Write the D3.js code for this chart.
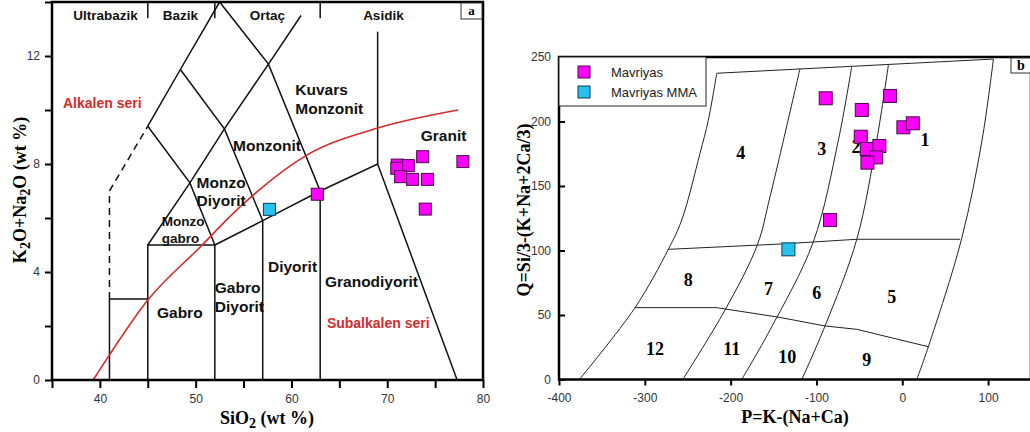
<!DOCTYPE html>
<html>
<head>
<meta charset="utf-8">
<script src="https://cdn.jsdelivr.net/npm/d3@7"></script>
<style>
  body { margin: 0; background: #fff; }
  text { font-family: "Liberation Sans", Arial, sans-serif; }
  .serif { font-family: "Liberation Serif", "Times New Roman", serif; font-weight: bold; }
  .tick text { font-size: 12px; fill: #333; font-family: "Liberation Sans", Arial, sans-serif; }
</style>
</head>
<body>
<script>
// ---- data, panel a (TAS, SiO2 vs K2O+Na2O) ----
const tasGranite = [
  [73.7, 8.27], [77.9, 8.09], [71.05, 7.96], [72.2, 7.94], [71.0, 7.84],
  [71.4, 7.53], [72.65, 7.43], [74.2, 7.43], [73.97, 6.33], [62.7, 6.88]
];
const tasMMA = [[57.7, 6.32]];

// field boundaries
const tasFields = [
  [[41, 0], [41, 3], [45, 3]],
  [[45, 0], [45, 5], [52, 5], [52, 0]],
  [[45, 5], [49.4, 7.3], [53, 9.3], [57.6, 11.7], [61, 13.5]],
  [[45, 9.4], [48.4, 11.5], [52.5, 14]],
  [[48.4, 11.5], [53, 9.3], [57, 5.9], [57, 0]],
  [[45, 9.4], [49.4, 7.3], [52, 5]],
  [[52.5, 14], [57.6, 11.7], [63, 7], [63, 0]],
  [[52, 5], [57, 5.9], [63, 7], [69, 8], [77.3, 0]],
  [[69, 8], [69, 12.9]]
];
const tasDashed = [[41, 3], [41, 7], [45, 9.4]];
const alkalineDivide = [[39.3, 0], [41, 0.93], [45, 2.96], [50.4, 4.9], [54.6, 6.4], [61.6, 8.33], [69, 9.33], [77.4, 10.0]];
const tasSeparators = [45, 52, 63];

const tasGroups = [
  { t: "Ultrabazik", x: 40.6 }, { t: "Bazik", x: 48.4 },
  { t: "Ortaç", x: 57.5 }, { t: "Asidik", x: 69.6 }
];
const tasNames = [
  { t: ["Kuvars", "Monzonit"], x: 60.4, y: 10.74, s: 15.5 },
  { t: ["Monzonit"], x: 53.9, y: 8.7, s: 15.5 },
  { t: ["Monzo", "Diyorit"], x: 50.1, y: 7.33, s: 15.5 },
  { t: ["Monzo", "gabro"], x: 46.45, y: 5.87, s: 13.5 },
  { t: ["Gabro"], x: 45.96, y: 2.48, s: 15.5 },
  { t: ["Gabro", "Diyorit"], x: 52.0, y: 3.41, s: 15.5 },
  { t: ["Diyorit"], x: 57.55, y: 4.19, s: 15.5 },
  { t: ["Granodiyorit"], x: 63.5, y: 3.63, s: 15.5 },
  { t: ["Granit"], x: 73.5, y: 9.04, s: 15.5 }
];
const tasSeries = [
  { t: "Alkalen seri", x: 36.15, y: 10.26 },
  { t: "Subalkalen seri", x: 63.7, y: 2.11 }
];

// ---- data, panel b (P-Q) ----
const pqGranite = [
  [-89.2, 218], [-14.2, 219.8], [-47.2, 208.9], [1.3, 195.5], [12.2, 198.6],
  [-48.4, 188.2], [-41.4, 178.7], [-26.7, 181], [-30.5, 172.2], [-40.6, 168.1],
  [-84.2, 123.6]
];
const pqMMA = [[-132.7, 100.9]];

const pqCurves = [
  [[-376.3, 0], [-311.4, 55.7], [-272.6, 100.9], [-257, 123.6], [-235.7, 175.3], [-226, 201], [-216.2, 237.4]],
  [[-255.8, 0], [-206.5, 53.9], [-168.9, 104.3], [-154.1, 141.7], [-119.1, 241.2]],
  [[-187.1, 0], [-154.1, 38.4], [-103.6, 106.8], [-74.4, 185.7], [-58.9, 242.5]],
  [[-117.1, 0], [-90, 41.5], [-53, 108.7], [-29.7, 185.7], [-16.2, 243.8]],
  [[16.9, 0], [30.4, 25.4], [69.3, 109.5], [93, 185.7], [106.2, 248.4]]
];
const pqStraight = [
  [[-216.2, 237.4], [106.2, 248.4]],
  [[-272.6, 100.9], [-142.4, 105], [-53, 108.7], [67.4, 108.7]],
  [[-311.4, 55.7], [-216.2, 55.7], [-142.4, 48.1], [-90, 41.5], [-53, 38.9], [30.4, 25.4]]
];
const pqNames = [
  ["4", -188.2, 175.5], ["3", -93.8, 179.2], ["2", -53.8, 180.5], ["1", 26.6, 185.7],
  ["8", -249.3, 77.7], ["7", -156, 70.7], ["6", -99.7, 67.3], ["5", -12.2, 64.2],
  ["12", -288.1, 24.2], ["11", -198.8, 24.2], ["10", -133.9, 17.7], ["9", -41.4, 15.1]
];

const magenta = "#ff00ff", cyan = "#27c3ee";
const red = "#d42b2b";

const svg = d3.select("body").append("svg")
  .attr("width", 1030)
  .attr("height", 432);

// ================= panel a =================
let xa = d3.scaleLinear().domain([35, 80]).range([52, 483]);
let ya = d3.scaleLinear().domain([0, 14]).range([380, 2]);
let ga = svg.append("g");

let lineA = d3.line().x(d => xa(d[0])).y(d => ya(d[1]));

ga.append("g")
  .attr("transform", "translate(0,380)")
  .call(d3.axisBottom(xa).tickValues(d3.range(35, 81, 5)).tickSize(8).tickPadding(6)
    .tickFormat(d => d % 10 === 0 ? d : ""))
  .call(g => g.select(".domain").remove())
  .call(g => g.selectAll(".tick line").attr("stroke-width", 2));

ga.append("g")
  .attr("transform", "translate(52,0)")
  .call(d3.axisLeft(ya).tickValues(d3.range(0, 15, 2)).tickSize(7).tickPadding(5)
    .tickFormat(d => d % 4 === 0 && d < 14 ? d : ""))
  .call(g => g.select(".domain").remove())
  .call(g => g.selectAll(".tick line").attr("stroke-width", 2));

ga.selectAll(".field")
  .data(tasFields)
  .enter()
  .append("path")
    .attr("d", lineA)
    .attr("fill", "none")
    .attr("stroke", "#111")
    .attr("stroke-width", 1.5);

ga.append("path")
  .attr("d", lineA(tasDashed))
  .attr("fill", "none")
  .attr("stroke", "#111")
  .attr("stroke-width", 1.5)
  .attr("stroke-dasharray", "7,5");

ga.append("path")
  .attr("d", lineA.curve(d3.curveMonotoneX)(alkalineDivide))
  .attr("fill", "none")
  .attr("stroke", red)
  .attr("stroke-width", 1.6);
lineA.curve(d3.curveLinear);

ga.selectAll(".sep")
  .data(tasSeparators)
  .enter()
  .append("line")
    .attr("x1", d => xa(d)).attr("x2", d => xa(d))
    .attr("y1", ya(14)).attr("y2", ya(13.4))
    .attr("stroke", "#111")
    .attr("stroke-width", 1.5);

ga.append("rect")
  .attr("x", xa(35)).attr("y", ya(14))
  .attr("width", xa(80) - xa(35)).attr("height", ya(0) - ya(14))
  .attr("fill", "none")
  .attr("stroke", "#000")
  .attr("stroke-width", 2.5);

ga.selectAll(".grp")
  .data(tasGroups)
  .enter()
  .append("text")
    .attr("x", d => xa(d.x))
    .attr("y", ya(13.52))
    .attr("dy", "0.35em")
    .attr("text-anchor", "middle")
    .style("font-size", "13.5px")
    .style("font-weight", "bold")
    .attr("fill", "#111")
    .text(d => d.t);

let names = ga.selectAll(".name")
  .data(tasNames)
  .enter()
  .append("text")
    .attr("x", d => xa(d.x))
    .attr("y", d => ya(d.y))
    .style("font-size", d => d.s + "px")
    .style("font-weight", "bold")
    .attr("fill", "#111");
names.selectAll("tspan")
  .data(d => d.t.map((t, i) => ({ t, i, x: d.x, s: d.s })))
  .enter()
  .append("tspan")
    .attr("x", d => xa(d.x))
    .attr("dy", d => d.i === 0 ? "0.35em" : (d.s + 3) + "px")
    .text(d => d.t);

ga.selectAll(".series")
  .data(tasSeries)
  .enter()
  .append("text")
    .attr("x", d => xa(d.x))
    .attr("y", d => ya(d.y))
    .attr("dy", "0.35em")
    .style("font-size", "14px")
    .style("font-weight", "bold")
    .attr("fill", red)
    .text(d => d.t);

function squares(g, data, xs, ys, size, fill, stroke) {
  g.selectAll(null)
    .data(data)
    .enter()
    .append("rect")
      .attr("x", d => xs(d[0]) - size / 2)
      .attr("y", d => ys(d[1]) - size / 2)
      .attr("width", size)
      .attr("height", size)
      .attr("fill", fill)
      .attr("stroke", stroke)
      .attr("stroke-width", 1);
}
squares(ga, tasGranite, xa, ya, 12, magenta, "#4b0a4b");
squares(ga, tasMMA, xa, ya, 12, cyan, "#0d3d55");

// panel letter
ga.append("rect")
  .attr("x", 461).attr("y", 3).attr("width", 21).attr("height", 16)
  .attr("fill", "#fff").attr("stroke", "#333").attr("stroke-width", 1);
ga.append("text")
  .attr("class", "serif")
  .attr("x", 471.5).attr("y", 15)
  .attr("text-anchor", "middle")
  .style("font-size", "13px")
  .text("a");

// axis titles
ga.append("text")
  .attr("class", "serif")
  .attr("x", 267).attr("y", 424)
  .attr("text-anchor", "middle")
  .style("font-size", "18px")
  .html('SiO<tspan dy="4" font-size="14">2</tspan><tspan dy="-4"> (wt %)</tspan>');

ga.append("text")
  .attr("class", "serif")
  .attr("transform", "translate(26,190) rotate(-90)")
  .attr("text-anchor", "middle")
  .style("font-size", "18px")
  .html('K<tspan dy="4" font-size="14">2</tspan><tspan dy="-4">O+Na</tspan><tspan dy="4" font-size="14">2</tspan><tspan dy="-4">O (wt %)</tspan>');

// ================= panel b =================
let xb = d3.scaleLinear().domain([-400, 150]).range([559, 1031]);
let yb = d3.scaleLinear().domain([0, 250]).range([379.5, 57]);
let gb = svg.append("g");

let lineB = d3.line().x(d => xb(d[0])).y(d => yb(d[1]));

gb.append("g")
  .attr("transform", "translate(0,379.5)")
  .call(d3.axisBottom(xb).tickValues(d3.range(-400, 101, 100)).tickSize(6).tickPadding(8)
    .tickFormat(d => String(d)))
  .call(g => g.select(".domain").remove())
  .call(g => g.selectAll(".tick line").attr("stroke-width", 2));

gb.append("g")
  .attr("transform", "translate(559,0)")
  .call(d3.axisLeft(yb).tickValues(d3.range(0, 251, 50)).tickSize(-6).tickPadding(8))
  .call(g => g.select(".domain").remove())
  .call(g => g.selectAll(".tick line").attr("stroke-width", 2));

gb.selectAll(".curve")
  .data(pqCurves)
  .enter()
  .append("path")
    .attr("d", lineB.curve(d3.curveCatmullRom))
    .attr("fill", "none")
    .attr("stroke", "#222")
    .attr("stroke-width", 1);

let lineB2 = d3.line().x(d => xb(d[0])).y(d => yb(d[1]));
gb.selectAll(".straight")
  .data(pqStraight)
  .enter()
  .append("path")
    .attr("d", lineB2)
    .attr("fill", "none")
    .attr("stroke", "#222")
    .attr("stroke-width", 1);

gb.append("rect")
  .attr("x", xb(-400)).attr("y", yb(250))
  .attr("width", xb(150) - xb(-400)).attr("height", yb(0) - yb(250))
  .attr("fill", "none")
  .attr("stroke", "#000")
  .attr("stroke-width", 2.5);

gb.selectAll(".num")
  .data(pqNames)
  .enter()
  .append("text")
    .attr("class", "serif")
    .attr("x", d => xb(d[1]))
    .attr("y", d => yb(d[2]))
    .attr("dy", "0.35em")
    .attr("text-anchor", "middle")
    .style("font-size", "18px")
    .text(d => d[0]);

squares(gb, pqGranite, xb, yb, 13, magenta, "#4b0a4b");
squares(gb, pqMMA, xb, yb, 13, cyan, "#0d3d55");

// legend
const legendItems = [["Mavriyas", magenta, "#4b0a4b"], ["Mavriyas MMA", cyan, "#0d3d55"]];
gb.append("rect")
  .attr("x", 559).attr("y", 57).attr("width", 147).attr("height", 49)
  .attr("fill", "#fff").attr("stroke", "#222").attr("stroke-width", 1);
let leg = gb.selectAll(".leg")
  .data(legendItems)
  .enter()
  .append("g")
    .attr("transform", (d, i) => `translate(584,${72 + i * 20})`);
leg.append("rect")
  .attr("x", -6).attr("y", -6).attr("width", 12).attr("height", 12)
  .attr("fill", d => d[1]).attr("stroke", d => d[2]);
leg.append("text")
  .attr("x", 27).attr("dy", "0.35em")
  .style("font-size", "13px")
  .attr("fill", "#222")
  .text(d => d[0]);

gb.append("rect")
  .attr("x", 1011).attr("y", 58).attr("width", 25).attr("height", 15)
  .attr("fill", "#fff").attr("stroke", "#333").attr("stroke-width", 1);
gb.append("text")
  .attr("class", "serif")
  .attr("x", 1021).attr("y", 70)
  .attr("text-anchor", "middle")
  .style("font-size", "14px")
  .text("b");

gb.append("text")
  .attr("class", "serif")
  .attr("x", 795).attr("y", 423)
  .attr("text-anchor", "middle")
  .style("font-size", "18px")
  .text("P=K-(Na+Ca)");

gb.append("text")
  .attr("class", "serif")
  .attr("transform", "translate(530,210) rotate(-90)")
  .attr("text-anchor", "middle")
  .style("font-size", "18px")
  .text("Q=Si/3-(K+Na+2Ca/3)");
</script>
</body>
</html>
